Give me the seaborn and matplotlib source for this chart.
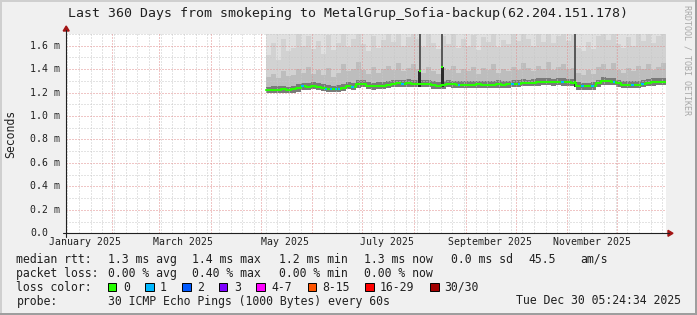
import numpy as np
import pandas as pd
import matplotlib
matplotlib.use("Agg")
import matplotlib.pyplot as plt
import matplotlib.dates as mdates
from matplotlib.patches import Rectangle, Polygon
from matplotlib.lines import Line2D
import seaborn as sns

# ---------------------------------------------------------------- data
TITLE = "Last 360 Days from smokeping to MetalGrup_Sofia-backup(62.204.151.178)"
range_start = "2025-01-04 05:24:34"
range_end = "2025-12-30 05:24:34"
bin_start = "2025-05-03 20:00"
bin_days = 3

median_ms = [1.222, 1.225, 1.223, 1.226, 1.224, 1.228, 1.236, 1.252, 1.250, 1.253,
             1.248, 1.240, 1.232, 1.228, 1.230, 1.242, 1.256, 1.250, 1.273, 1.275,
             1.254, 1.252, 1.255, 1.256, 1.265, 1.276, 1.278, 1.276, 1.279, 1.277,
             1.276, 1.275, 1.274, 1.262, 1.258, 1.262, 1.272, 1.270, 1.268, 1.266,
             1.268, 1.267, 1.269, 1.266, 1.268, 1.267, 1.270, 1.268, 1.270, 1.272,
             1.276, 1.281, 1.280, 1.283, 1.288, 1.289, 1.290, 1.287, 1.289, 1.288,
             1.286, 1.284, 1.258, 1.252, 1.253, 1.256, 1.280, 1.297, 1.295, 1.294,
             1.278, 1.266, 1.265, 1.266, 1.268, 1.276, 1.284, 1.288, 1.291, 1.290,
             1.289]

smoke_lo_ms = [1.195, 1.198, 1.197, 1.199, 1.196, 1.200, 1.206, 1.222, 1.224, 1.226,
               1.221, 1.212, 1.204, 1.201, 1.203, 1.214, 1.228, 1.224, 1.243, 1.247,
               1.226, 1.225, 1.227, 1.229, 1.236, 1.248, 1.250, 1.249, 1.251, 1.249,
               1.248, 1.247, 1.246, 1.234, 1.231, 1.234, 1.244, 1.242, 1.240, 1.239,
               1.241, 1.239, 1.241, 1.238, 1.240, 1.240, 1.242, 1.240, 1.243, 1.245,
               1.248, 1.253, 1.252, 1.255, 1.259, 1.261, 1.262, 1.259, 1.261, 1.260,
               1.258, 1.256, 1.225, 1.220, 1.221, 1.224, 1.250, 1.268, 1.266, 1.265,
               1.249, 1.236, 1.236, 1.237, 1.239, 1.247, 1.255, 1.259, 1.262, 1.261,
               1.260]

smoke_dark_ms = [1.25, 1.26, 1.255, 1.26, 1.25, 1.26, 1.27, 1.285, 1.28, 1.29,
                 1.28, 1.27, 1.265, 1.26, 1.265, 1.275, 1.29, 1.285, 1.305, 1.31,
                 1.29, 1.285, 1.29, 1.29, 1.30, 1.31, 1.31, 1.305, 1.315, 1.31,
                 1.31, 1.305, 1.305, 1.295, 1.29, 1.295, 1.305, 1.30, 1.30, 1.295,
                 1.30, 1.30, 1.30, 1.295, 1.30, 1.30, 1.305, 1.30, 1.30, 1.305,
                 1.31, 1.315, 1.31, 1.315, 1.32, 1.32, 1.32, 1.315, 1.32, 1.32,
                 1.315, 1.315, 1.29, 1.285, 1.285, 1.29, 1.31, 1.33, 1.325, 1.325,
                 1.31, 1.30, 1.295, 1.30, 1.30, 1.31, 1.315, 1.32, 1.32, 1.32,
                 1.32]

smoke_mid_ms = [1.33, 1.36, 1.32, 1.38, 1.34, 1.35, 1.40, 1.37, 1.42, 1.36,
                1.39, 1.35, 1.41, 1.33, 1.37, 1.44, 1.38, 1.40, 1.46, 1.39,
                1.36, 1.42, 1.37, 1.40, 1.43, 1.39, 1.45, 1.38, 1.41, 1.44,
                1.40, 1.37, 1.42, 1.38, 1.36, 1.41, 1.39, 1.43, 1.37, 1.40,
                1.38, 1.42, 1.36, 1.41, 1.39, 1.44, 1.37, 1.40, 1.38, 1.42,
                1.39, 1.45, 1.41, 1.38, 1.43, 1.40, 1.46, 1.39, 1.42, 1.44,
                1.40, 1.41, 1.37, 1.35, 1.39, 1.36, 1.42, 1.44, 1.40, 1.45,
                1.39, 1.37, 1.41, 1.38, 1.43, 1.40, 1.44, 1.39, 1.42, 1.45,
                1.41]

smoke_streak_ms = [1.52, 1.62, 1.48, 1.66, 1.55, 1.58, 1.70, 1.60, 1.68, 1.57,
                   1.64, 1.53, 1.69, 1.56, 1.62, 1.70, 1.59, 1.66, 1.70, 1.61,
                   1.55, 1.68, 1.58, 1.65, 1.70, 1.63, 1.70, 1.60, 1.67, 1.70,
                   1.66, 1.59, 1.70, 1.62, 1.57, 1.68, 1.61, 1.70, 1.58, 1.66,
                   1.60, 1.69, 1.56, 1.67, 1.63, 1.70, 1.59, 1.65, 1.61, 1.70,
                   1.64, 1.70, 1.66, 1.60, 1.70, 1.63, 1.70, 1.62, 1.68, 1.70,
                   1.64, 1.69, 1.58, 1.55, 1.63, 1.57, 1.68, 1.70, 1.65, 1.70,
                   1.61, 1.58, 1.67, 1.60, 1.70, 1.64, 1.70, 1.62, 1.68, 1.70,
                   1.66]

ping_max_ms = [2.4, 1.9, 2.7, 2.1, 2.3, 1.8, 2.6, 2.2, 2.9, 2.0,
               2.5, 2.1, 2.8, 1.9, 2.4, 2.6, 2.0, 2.3, 2.7, 2.2,
               1.9, 2.5, 2.1, 2.8, 2.4, 2.0, 2.6, 2.3, 2.1, 2.9,
               2.2, 1.8, 2.7, 2.4, 2.0, 2.5, 2.3, 2.8, 1.9, 2.2,
               2.6, 2.1, 2.4, 2.0, 2.7, 2.3, 1.9, 2.5, 2.2, 2.8,
               2.1, 2.6, 2.4, 1.9, 2.7, 2.3, 2.5, 2.0, 2.2, 2.9,
               2.4, 2.1, 3.1, 2.0, 2.6, 2.2, 2.8, 2.4, 2.1, 2.5,
               2.3, 1.9, 2.6, 2.2, 2.7, 2.0, 2.4, 2.8, 2.1, 2.5,
               2.3]

spike_dates = ["2025-08-04 12:00", "2025-08-17 20:00", "2025-11-05 14:00"]
spike_lo_ms = [1.25, 1.245, 1.25]
spike_median_ms = [1.386, 1.418, 1.29]
spike_max_ms = [2.3, 2.1, 2.6]

loss1_dates = ["2025-05-26", "2025-06-09", "2025-06-12", "2025-06-15", "2025-06-17",
               "2025-06-25", "2025-07-25", "2025-08-28", "2025-09-29", "2025-10-03",
               "2025-10-29", "2025-11-10", "2025-11-16", "2025-11-29", "2025-12-10",
               "2025-12-16"]

month_labels = ["January 2025", "March 2025", "May 2025", "July 2025",
                "September 2025", "November 2025"]
month_label_dates = ["2025-01-15 12:00", "2025-03-15 12:00", "2025-05-15 12:00",
                     "2025-07-15 12:00", "2025-09-15 12:00", "2025-11-15 12:00"]

y_ticks_ms = [0.0, 0.2, 0.4, 0.6, 0.8, 1.0, 1.2, 1.4, 1.6]
y_tick_labels = ["0.0", "0.2 m", "0.4 m", "0.6 m", "0.8 m", "1.0 m", "1.2 m", "1.4 m", "1.6 m"]
y_limits_ms = (0.0, 1.7)

legend_row1 = [("median rtt:", 16.4), ("1.3 ms avg", 107.6), ("1.4 ms max", 192.4),
               ("1.2 ms min", 279.1), ("1.3 ms now", 364.4), ("0.0 ms sd", 451.1),
               ("45.5", 528.9), ("am/s", 580.0)]
legend_row2 = [("packet loss:", 16.4), ("0.00 % avg", 107.6), ("0.40 % max", 192.4),
               ("0.00 % min", 279.1), ("0.00 % now", 364.4)]
loss_names = ["0", "1", "2", "3", "4-7", "8-15", "16-29", "30/30"]
loss_colors = ["#26ff00", "#00b8ff", "#0059ff", "#7e00ff", "#ff00ff", "#ff5500", "#ff0000", "#a10000"]
loss_box_x = [108.0, 145.3, 182.2, 219.1, 256.4, 307.6, 365.3, 430.2]
loss_text_x = [123.1, 160.0, 196.9, 234.2, 271.6, 322.2, 380.0, 444.4]
probe_text = "30 ICMP Echo Pings (1000 Bytes) every 60s"
stamp_text = "Tue Dec 30 05:24:34 2025"

# ---------------------------------------------------------------- style
sns.set_theme(style="white")
plt.rcParams["font.family"] = ["DejaVu Sans Mono", "DejaVu Sans"]

W, H = 697, 315
BG = "#f0f0f0"
fig = plt.figure(figsize=(W / 100, H / 100), dpi=100, facecolor=BG)


def fx(x):
    return x / W


def fy(y):
    return 1 - y / H


PL, PT, PW, PH = 66.2, 33.9, 600.0, 199.4
ax = fig.add_axes([fx(PL), fy(PT + PH), PW / W, PH / H])
ax.set_facecolor("white")
for s in ax.spines.values():
    s.set_visible(False)

x0 = mdates.date2num(pd.Timestamp(range_start))
x1 = mdates.date2num(pd.Timestamp(range_end))
ax.set_xlim(x0, x1)
ax.set_ylim(*y_limits_ms)
ax.set_yticks(y_ticks_ms)
ax.set_xticks([])
ax.tick_params(length=0, labelleft=False, labelbottom=False)
ax.grid(False)

# ---------------------------------------------------------------- smoke
edges = pd.date_range(bin_start, periods=len(median_ms) + 1, freq=f"{bin_days}D")
xb = mdates.date2num(edges[:-1])
lo = np.array(smoke_lo_ms)
layers = [(ping_max_ms, "#e0e0e0"), (smoke_streak_ms, "#d2d2d2"),
          (smoke_mid_ms, "#bdbdbd"), (smoke_dark_ms, "#7a7a7a")]
for top, col in layers:
    top = np.array(top)
    ax.bar(xb, top - lo, bottom=lo, width=bin_days, align="edge",
           color=col, linewidth=0, zorder=1)

# spikes
sx = mdates.date2num(pd.to_datetime(spike_dates))
smed = np.array(spike_median_ms)
ax.bar(sx, np.array(spike_max_ms) - smed, bottom=smed, width=1.4, align="center",
       color="#5a5a5a", linewidth=0, zorder=3)
ax.bar(sx, smed - np.array(spike_lo_ms), bottom=spike_lo_ms, width=1.8, align="center",
       color="#2a2a2a", linewidth=0, zorder=3)

# ---------------------------------------------------------------- grid
dot_minor = dict(color="#c8c8c8", lw=0.72, ls=(0, (1, 2)), zorder=2)
dot_major = dict(color="#e08c8c", lw=0.72, ls=(0, (1, 2)), zorder=2.5)
months = pd.date_range("2025-02-01", "2025-12-01", freq="MS")
weeks = pd.date_range(range_start, range_end, freq="W-SUN", normalize=True)
for w in weeks:
    if w not in months:
        ax.axvline(mdates.date2num(w), **dot_minor)
for m in months:
    ax.axvline(mdates.date2num(m), **dot_major)
minor_y = np.round(np.arange(1, 18) * 0.1, 2)
for v in minor_y:
    if not np.any(np.isclose(v, y_ticks_ms)):
        ax.axhline(v, **dot_minor)
for v in y_ticks_ms[1:]:
    ax.axhline(v, **dot_major)

# ---------------------------------------------------------------- median line
GREEN = loss_colors[0]
sns.lineplot(x=xb, y=median_ms, drawstyle="steps-post", color=GREEN, linewidth=1.5,
             ax=ax, zorder=5, legend=False, estimator=None)
ax.hlines(spike_median_ms, sx - 0.6, sx + 0.6, color=GREEN, lw=1.5, zorder=6)

ld = mdates.date2num(pd.to_datetime(loss1_dates))
idx = np.searchsorted(mdates.date2num(edges), ld, side="right") - 1
ax.hlines(np.array(median_ms)[idx], ld - 0.7, ld + 0.7, color=loss_colors[1], lw=1.5, zorder=6)

# ---------------------------------------------------------------- axes lines & arrows
AX_COL = "#202020"
ARROW = "#a31515"
fig.add_artist(Line2D([fx(62.5), fx(669)], [fy(233.3)] * 2, color=AX_COL, lw=0.8,
                      transform=fig.transFigure))
fig.add_artist(Line2D([fx(PL)] * 2, [fy(236.5), fy(30)], color=AX_COL, lw=0.8,
                      transform=fig.transFigure))
fig.add_artist(Polygon([(fx(673), fy(233.3)), (fx(668), fy(230.3)), (fx(668), fy(236.3))],
                       closed=True, color=ARROW, transform=fig.transFigure))
fig.add_artist(Polygon([(fx(PL), fy(26)), (fx(PL - 3), fy(31)), (fx(PL + 3), fy(31))],
                       closed=True, color=ARROW, transform=fig.transFigure))

# tick labels
ytrans = ax.get_yaxis_transform()
for v, lab in zip(ax.get_yticks(), y_tick_labels):
    ax.text((30 - PL) / PW, v, lab, transform=ytrans, ha="left", va="center",
            fontsize=7.1, color="#202020", clip_on=False)
xtrans = ax.get_xaxis_transform()
for d, lab in zip(month_label_dates, month_labels):
    ax.text(mdates.date2num(pd.Timestamp(d)), -(242.3 - (PT + PH)) / PH, lab,
            transform=xtrans, ha="center", va="center", fontsize=7.1,
            color="#202020", clip_on=False)

# titles
fig.text(fx(348.5), fy(13.8), TITLE, ha="center", va="center", fontsize=9.5, color="#202020")
fig.text(fx(10.5), fy(133.6), "Seconds", rotation=90, ha="center", va="center",
         fontsize=8.3, color="#202020")
fig.text(fx(687.5), fy(60), "RRDTOOL / TOBI OETIKER", rotation=270, ha="center",
         va="center", fontsize=6, color="#a8a8a8")

# legend
LFS = 8.3
TXT = "#202020"
for txt, x in legend_row1:
    fig.text(fx(x), fy(259.3), txt, ha="left", va="center", fontsize=LFS, color=TXT)
for txt, x in legend_row2:
    fig.text(fx(x), fy(273.3), txt, ha="left", va="center", fontsize=LFS, color=TXT)
fig.text(fx(16.4), fy(287.3), "loss color:", ha="left", va="center", fontsize=LFS, color=TXT)
for name, col, bx, tx in zip(loss_names, loss_colors, loss_box_x, loss_text_x):
    fig.add_artist(Rectangle((fx(bx), fy(291.3)), 8.4 / W, 8.0 / H, facecolor=col,
                             edgecolor="black", lw=0.7, transform=fig.transFigure))
    fig.text(fx(tx), fy(287.3), name, ha="left", va="center", fontsize=LFS, color=TXT)
fig.text(fx(16.4), fy(301.0), "probe:", ha="left", va="center", fontsize=LFS, color=TXT)
fig.text(fx(107.6), fy(301.0), probe_text, ha="left", va="center", fontsize=LFS, color=TXT)
fig.text(fx(680.5), fy(301.0), stamp_text, ha="right", va="center", fontsize=LFS, color=TXT)

# frame
for (x, y, w, h, c) in [(0, 0, 697, 2, "#cfcfcf"), (0, 0, 2, 315, "#cfcfcf"),
                        (695, 0, 2, 315, "#9e9e9e"), (0, 313, 697, 2, "#9e9e9e")]:
    fig.add_artist(Rectangle((fx(x), fy(y + h)), w / W, h / H, facecolor=c,
                             edgecolor="none", transform=fig.transFigure))

fig.savefig("out.png", dpi=100, facecolor=BG)
